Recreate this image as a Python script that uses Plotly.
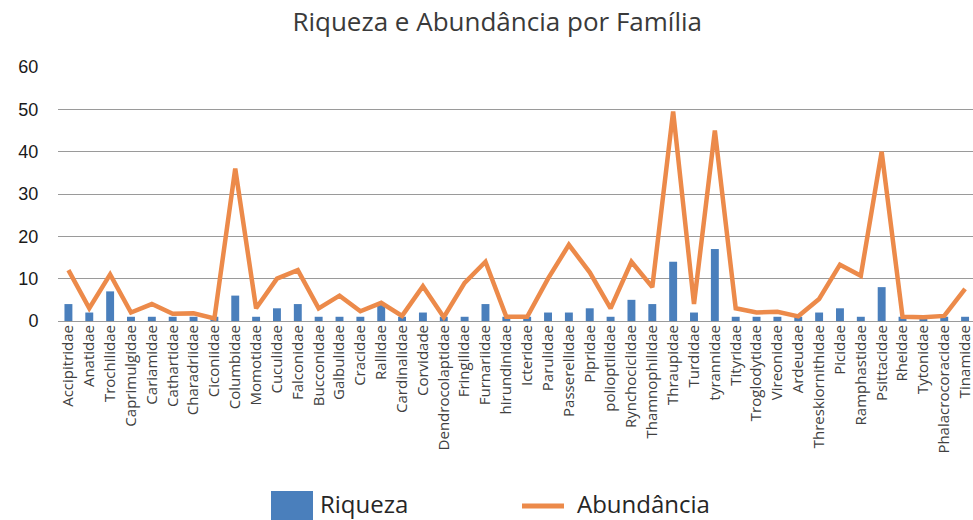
import plotly.graph_objects as go

familias = [
    'Accipitridae', 'Anatidae', 'Trochilidae', 'Caprimulgidae', 'Cariamidae',
    'Cathartidae', 'Charadriidae', 'Ciconiidae', 'Columbidae', 'Momotidae',
    'Cuculidae', 'Falconidae', 'Bucconidae', 'Galbulidae', 'Cracidae',
    'Rallidae', 'Cardinalidae', 'Corvidade', 'Dendrocolaptidae', 'Fringilidae',
    'Furnariidae', 'hirundinidae', 'Icteridae', 'Parulidae', 'Passerellidae',
    'Pipridae', 'polioptilidae', 'Rynchociclidae', 'Thamnophilidae', 'Thraupidae',
    'Turdidae', 'tyrannidae', 'Tityridae', 'Troglodytidae', 'Vireonidae',
    'Ardeudae', 'Threskiornithidae', 'Picidae', 'Ramphastidae', 'Psittacidae',
    'Rheidae', 'Tytonidae', 'Phalacrocoracidae', 'Tinamidae',
]

riqueza = [
    4, 2, 7, 1, 1, 1, 1, 1, 6, 1,
    3, 4, 1, 1, 1, 4, 1, 2, 1, 1,
    4, 1, 1, 2, 2, 3, 1, 5, 4, 14,
    2, 17, 1, 1, 1, 1, 2, 3, 1, 8,
    1, 1, 1, 1,
]

abundancia = [
    12, 3, 11, 2, 4, 1.7, 1.8, 0.6, 36, 3,
    10, 12, 3, 6, 2.3, 4.3, 1.2, 8.2, 0.9, 9,
    14, 1, 1, 10, 18, 11.5, 3, 14, 8, 49.5,
    4, 45, 3, 2, 2.2, 1.1, 5.2, 13.3, 10.7, 40,
    1, 0.9, 1.2, 7.6,
]

azul = '#4A7FBC'
laranja = '#EC8A4A'
fonte = 'Open Sans'

fig = go.Figure()
fig.add_trace(go.Bar(x=familias, y=riqueza, name='Riqueza',
                     marker=dict(color=azul, line=dict(width=0)),
                     showlegend=False))
fig.add_trace(go.Scatter(x=familias, y=abundancia, name='Abundância',
                         mode='lines', line=dict(color=laranja, width=4.5),
                         showlegend=False))

# legenda desenhada à mão para ter o tamanho do original
ly = -(503.5 - 321) / 254
fig.add_shape(type='rect', xref='paper', yref='paper',
              x0=(271 - 58) / 915, x1=(313 - 58) / 915,
              y0=-(522 - 321) / 254, y1=-(491 - 321) / 254,
              fillcolor=azul, line=dict(width=0))
fig.add_annotation(text='Riqueza', xref='paper', yref='paper',
                   x=(319 - 58) / 915, y=ly, borderpad=0,
                   xanchor='left', yanchor='middle', showarrow=False,
                   font=dict(family=fonte, size=24, color='#262626'))
fig.add_shape(type='line', xref='paper', yref='paper',
              x0=(522 - 58) / 915, x1=(564 - 58) / 915,
              y0=-(506 - 321) / 254, y1=-(506 - 321) / 254,
              line=dict(color=laranja, width=5))
fig.add_annotation(text='Abundância', xref='paper', yref='paper',
                   x=(576 - 58) / 915, y=ly, borderpad=0,
                   xanchor='left', yanchor='middle', showarrow=False,
                   font=dict(family=fonte, size=24, color='#262626'))

fig.update_layout(
    width=973, height=520,
    margin=dict(l=58, r=0, t=67, b=199),
    plot_bgcolor='white', paper_bgcolor='white',
    bargap=0.62,
    title=dict(text='Riqueza e Abundância por Família', xref='container',
               x=0.511, xanchor='center', y=1 - 22 / 520, yanchor='middle',
               font=dict(family=fonte, size=26, color='#3a3a3a')),
)
fig.update_xaxes(
    range=[-0.5, 43.38], tickangle=-90, showgrid=False,
    showline=False, ticks='', automargin=False,
    tickfont=dict(family=fonte, size=15, color='#404040'),
)
fig.update_yaxes(
    range=[0, 60], dtick=10, showgrid=True, gridcolor='#9a9a9a', gridwidth=1,
    zeroline=True, zerolinecolor='#9a9a9a', zerolinewidth=1,
    showline=False, automargin=False,
    ticks='outside', ticklen=15, tickcolor='rgba(0,0,0,0)',
    tickfont=dict(family='Liberation Sans, Arial', size=18, color='#1a1a1a'),
)

# a página traz margem de 8px no body; tira para o gráfico ficar no canto
fig.write_html('out.html', config={'displayModeBar': False},
               post_script="document.body.style.margin='0';")
